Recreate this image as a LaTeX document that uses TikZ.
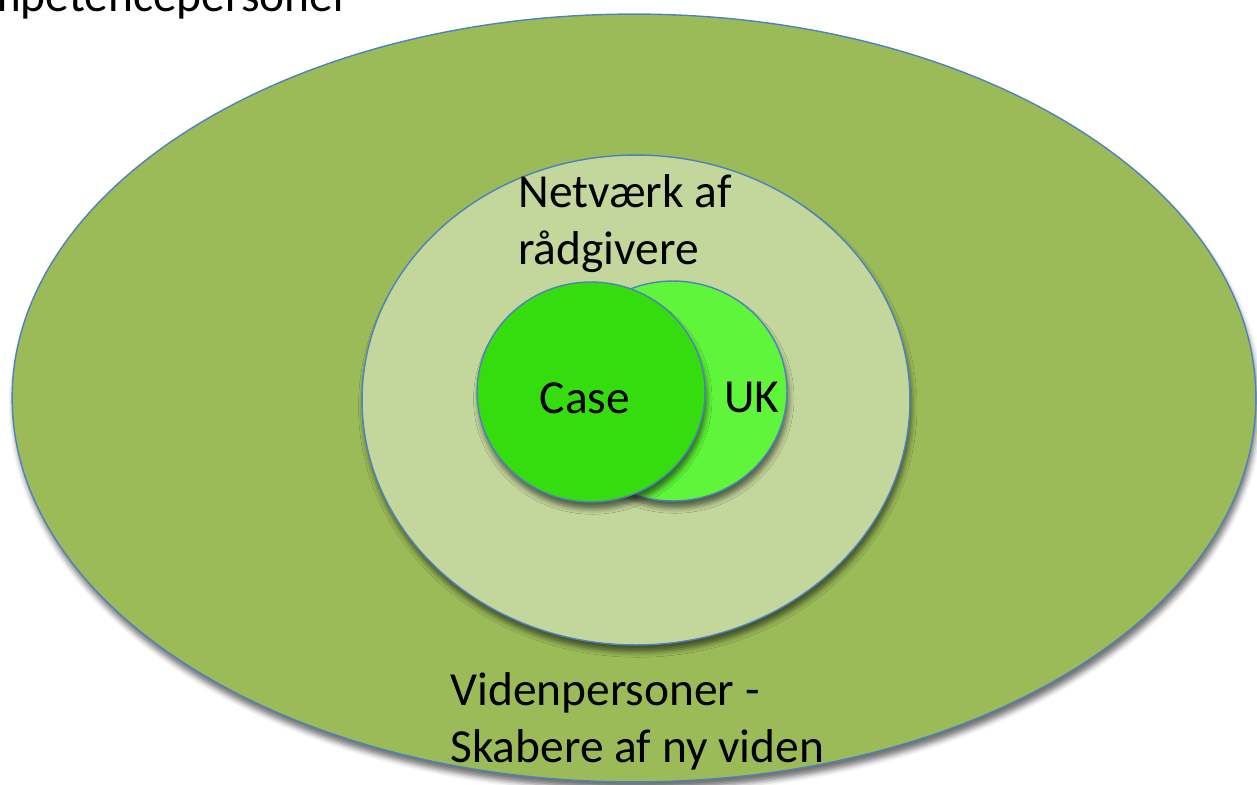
\documentclass[tikz,border=0pt]{standalone}
\usepackage{fontspec}
\setmainfont{Carlito}
\usetikzlibrary{shapes.geometric,shadows.blur}

\definecolor{ringblue}{HTML}{4F81BD}
\definecolor{outergreen}{HTML}{9BBB59}
\definecolor{netgreen}{HTML}{C3D69B}
\definecolor{casegreen}{HTML}{35DC0E}
\definecolor{ukgreen}{HTML}{5FF53A}

\begin{document}
\begin{tikzpicture}[x=0.02cm, y=-0.02cm,
	ring/.style = {ellipse, draw=ringblue, line width=0.8pt, inner sep=0pt,
                   blur shadow={shadow xshift=1pt, shadow yshift=-4pt,
                   shadow blur radius=3pt, shadow opacity=55}},
	label text/.style = {font=\fontsize{27}{32}\selectfont,
                   inner sep=0pt, align=left}
                   ]
\useasboundingbox (0,0) rectangle (1257,784);

\node[ring, fill=outergreen, minimum width=24.88cm, minimum height=15.36cm] (kompetence) at (634,398) {};
\node[ring, fill=netgreen, minimum width=10.96cm, minimum height=9.8cm] (netvaerk) at (636,400) {};
\node[ring, fill=ukgreen, minimum width=4.56cm, minimum height=4.4cm] (uk) at (673,391) {};
\node[ring, fill=casegreen, minimum width=4.56cm, minimum height=4.4cm] (case) at (591,392) {};

% tekster
\node[label text, anchor=base east] (kompetence label) at (350,12) {Kompetencepersoner};
\node[label text, anchor=base west] (netvaerk label) at (518,264) {Netværk af\\rådgivere};
\node[label text, anchor=base] (case label) at (585,413) {Case};
\node[label text, anchor=base] (uk label) at (752,412) {UK};
\node[label text, anchor=base west] (viden label) at (450,762) {Videnpersoner -\\Skabere af ny viden};
\end{tikzpicture}
\end{document}
